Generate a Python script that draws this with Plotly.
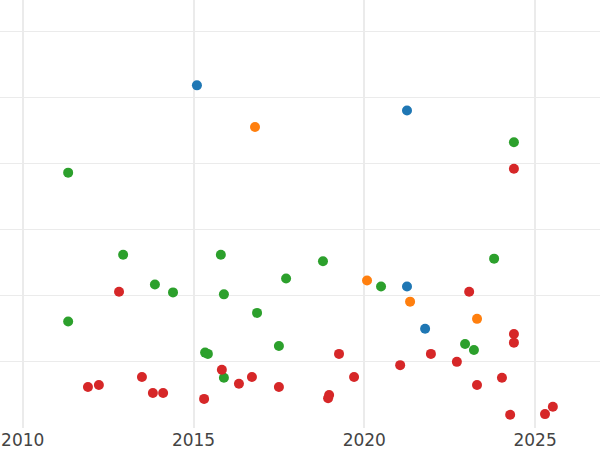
import plotly.graph_objects as go

# Data (years as decimal, values in arbitrary units)
blue_x = [2015.10, 2021.25, 2021.25, 2021.78]
blue_y = [51.8, 48.0, 21.4, 15.0]

orange_x = [2016.80, 2020.08, 2021.34, 2023.30]
orange_y = [45.5, 22.3, 19.1, 16.5]

green_x = [2011.33, 2012.94, 2013.87, 2014.40, 2011.33, 2015.80, 2015.89, 2016.86,
           2017.71, 2018.79, 2020.49, 2023.80, 2024.38, 2015.34, 2015.42, 2015.89,
           2017.50, 2022.95, 2023.21]
green_y = [38.6, 26.2, 21.7, 20.5, 16.1, 26.2, 20.2, 17.4,
           22.6, 25.2, 21.4, 25.6, 43.2, 11.4, 11.2, 7.6,
           12.4, 12.7, 11.8]

red_x = [2024.38, 2012.82, 2023.07, 2024.38, 2024.38, 2019.26, 2021.95, 2015.83,
         2022.71, 2021.05, 2013.49, 2016.71, 2019.70, 2024.03, 2011.91, 2012.23,
         2016.33, 2017.50, 2023.30, 2013.81, 2014.11, 2018.97, 2018.94, 2015.31,
         2024.27, 2025.29, 2025.52]
red_y = [39.2, 20.6, 20.6, 14.2, 12.9, 11.2, 11.2, 8.8,
         10.0, 9.5, 7.7, 7.7, 7.7, 7.6, 6.2, 6.5,
         6.7, 6.2, 6.5, 5.3, 5.3, 5.0, 4.5, 4.4,
         2.0, 2.1, 3.2]

x_ticks = [2010, 2015, 2020, 2025]
x_tick_labels = ["2010", "2015", "2020", "2025"]
y_ticks = [10, 20, 30, 40, 50, 60]

series = [
    ("A", blue_x, blue_y, "#1f77b4"),
    ("B", orange_x, orange_y, "#ff7f0e"),
    ("C", green_x, green_y, "#2ca02c"),
    ("D", red_x, red_y, "#d62728"),
]

fig = go.Figure()
for name, xs, ys, col in series:
    fig.add_trace(go.Scatter(x=xs, y=ys, mode="markers", name=name,
                             marker=dict(color=col, size=10, line=dict(width=0))))

fig.update_layout(
    width=600, height=450,
    margin=dict(l=0, r=0, t=0, b=22, autoexpand=False),
    paper_bgcolor="white", plot_bgcolor="white",
    showlegend=False,
    font=dict(family="DejaVu Sans", color="#444444"),
)
fig.update_xaxes(range=[2009.335, 2026.90], tickvals=x_ticks, ticktext=x_tick_labels,
                 showgrid=True, gridcolor="#ebebeb", gridwidth=2, zeroline=False,
                 showline=False, ticks="", ticklabeloverflow="allow",
                 tickfont=dict(size=17, color="#444444"))
fig.update_yaxes(range=[0, 64.7], tickvals=y_ticks, showticklabels=False,
                 showgrid=True, gridcolor="#ebebeb", gridwidth=1, zeroline=False,
                 showline=False, ticks="")

fig.write_html("out.html", config={"displayModeBar": False},
               post_script="document.body.style.margin='0';document.body.style.padding='0';")
